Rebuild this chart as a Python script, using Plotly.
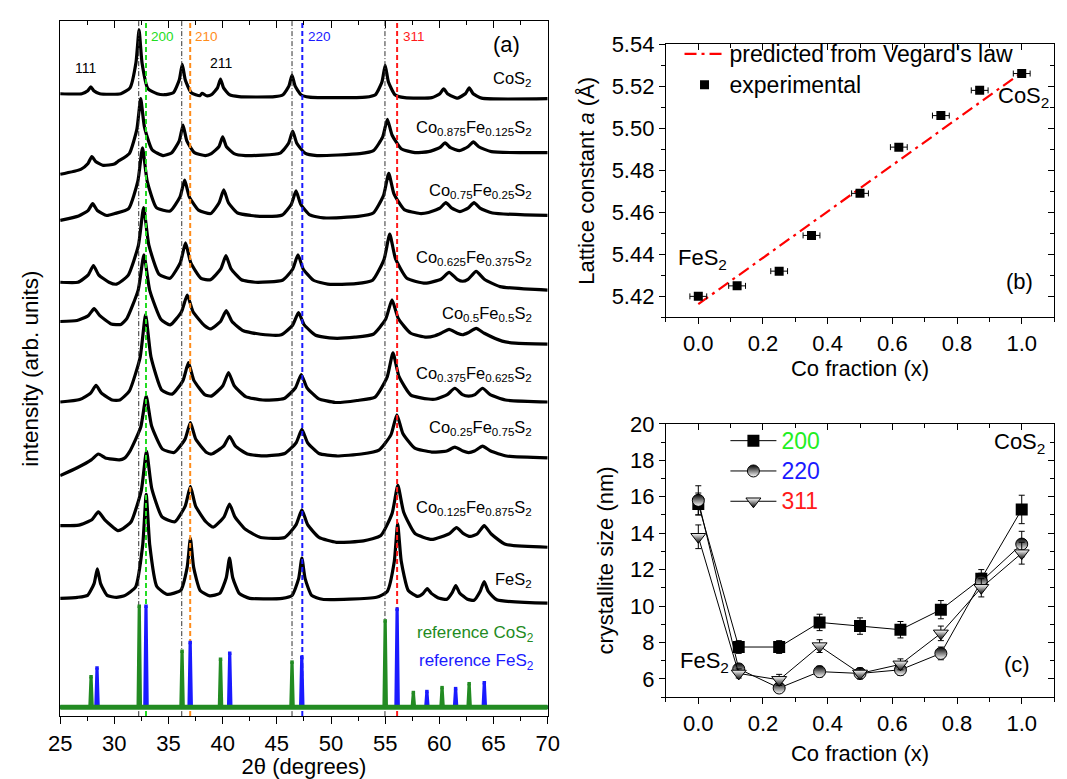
import plotly.graph_objects as go

FONT = "Liberation Sans, Arial, Helvetica, sans-serif"

# ---------------- (a) XRD patterns: (2theta [deg], intensity incl. stacking offset [arb. units])
xrd_cos2 = [(25, 634), (27.0, 634), (27.55, 637), (27.83, 641), (28.1, 637), (28.65, 634), (30.6, 634),
            (31.45, 640), (32.0, 666), (32.28, 699), (32.56, 665), (33.1, 639), (33.95, 634), (34.6, 633),
            (35.44, 635), (35.99, 648), (36.27, 664), (36.55, 648), (37.1, 635), (37.9, 632), (38.1, 634.5),
            (38.5, 632), (38.97, 633), (39.52, 640), (39.8, 649), (40.08, 640), (40.62, 633), (41.5, 631),
            (44.8, 631), (45.57, 633), (46.12, 642), (46.4, 653), (46.68, 642), (47.23, 633), (48.0, 630.5),
            (53.2, 630.5), (54.1, 633), (54.7, 646), (55.0, 663), (55.3, 646), (55.9, 633), (56.8, 630),
            (59.3, 630), (60.05, 634), (60.4, 639), (60.75, 634), (61.5, 630), (61.7, 629.5), (62.4, 634),
            (62.76, 640), (63.12, 634), (63.9, 629.5), (70, 629)]
xrd_co875 = [(25, 552), (26.9, 557), (27.57, 563), (27.92, 570), (28.27, 565), (28.97, 561), (30.0, 562.5),
             (30.33, 565), (31.38, 573), (32.08, 598), (32.43, 629), (32.78, 600), (33.48, 577), (34.5, 571),
             (35.3, 574), (35.99, 586), (36.34, 602), (36.69, 586), (37.39, 574), (38.4, 571), (38.95, 573),
             (39.65, 580), (40.0, 590), (40.35, 580), (41.05, 573), (42.1, 571), (45.3, 573.5), (46.08, 583.5),
             (46.46, 596), (46.84, 583.5), (47.6, 573.5), (48.7, 571), (52.65, 573), (53.92, 576), (54.77, 590),
             (55.2, 608), (55.63, 592), (56.48, 578), (57.75, 574), (59.0, 575), (60.03, 579), (60.53, 584),
             (61.03, 579), (61.85, 576), (62.64, 580), (63.14, 585), (63.64, 580), (64.8, 575), (70, 574)]
xrd_co75 = [(25, 505), (26.7, 509.5), (27.57, 515), (28.0, 522), (28.43, 515), (29.3, 510), (30.05, 512),
            (31.32, 517), (32.17, 545), (32.6, 579), (33.03, 545), (33.88, 518), (35.15, 514.5), (36.06, 529),
            (36.49, 546), (36.92, 529), (37.77, 515.5), (38.9, 512), (39.67, 523), (40.1, 536), (40.53, 523),
            (41.38, 512.5), (42.6, 510), (44.0, 509), (45.5, 510.5), (46.34, 521.5), (46.77, 535), (47.2, 521.5),
            (48.05, 510.5), (49.3, 507.5), (52.5, 509), (53.9, 512.5), (54.85, 530.5), (55.33, 553), (55.81, 532),
            (56.76, 516), (58.2, 512), (59.0, 513), (60.05, 517.5), (60.6, 523), (61.15, 517.5), (61.9, 514),
            (62.65, 517.5), (63.2, 523), (63.75, 517.5), (64.9, 512.5), (70, 510)]
xrd_co625 = [(25, 442), (26.64, 442), (27.59, 449.5), (28.07, 459), (28.55, 449.5), (29.5, 442), (30.2, 440),
             (31.27, 449), (32.22, 479.5), (32.7, 518), (33.18, 480), (34.13, 450), (35.14, 446), (36.09, 462),
             (36.57, 482), (37.05, 462), (38.0, 446), (38.87, 444.5), (39.82, 455.5), (40.3, 469), (40.78, 455.5),
             (41.73, 444.5), (43.0, 442), (45.52, 444), (46.47, 455.5), (46.95, 470), (47.43, 455.5), (48.38, 444),
             (49.7, 440), (52.3, 440.5), (53.84, 444), (54.89, 465), (55.42, 491), (55.95, 466), (57.0, 446),
             (58.7, 441), (60.15, 445), (60.9, 452), (61.65, 445), (62.15, 443), (62.65, 445), (63.4, 453),
             (64.15, 445), (65.6, 437.5), (70, 434)]
xrd_co5 = [(25, 402), (26.55, 403), (27.6, 408), (28.13, 415), (28.66, 408), (29.7, 399.5), (30.6, 399),
           (31.15, 405), (32.2, 434), (32.73, 470), (33.26, 434), (34.31, 404), (35.15, 398.5), (36.2, 412),
           (36.73, 429), (37.26, 412), (38.31, 398), (38.9, 394.5), (39.8, 402), (40.33, 413), (40.86, 402),
           (41.91, 392.5), (43.5, 389), (45.42, 388.5), (46.47, 398.5), (47.0, 411), (47.53, 398.5), (48.58, 388),
           (50.2, 385), (52.2, 386), (53.9, 389), (55.05, 404.5), (55.63, 424), (56.21, 405), (57.36, 390),
           (58.8, 386), (59.6, 387.5), (60.15, 390), (60.9, 394), (61.65, 390), (62.15, 388.5), (62.65, 390.5),
           (63.4, 395), (64.15, 390), (65.8, 382), (67.0, 380), (70, 379)]
xrd_co375 = [(25, 320), (26.8, 322.5), (27.81, 329), (28.31, 337), (28.81, 329), (29.8, 322), (30.5, 322),
             (31.38, 331), (32.38, 365.5), (32.88, 409), (33.38, 366), (34.38, 332), (35.34, 328), (36.34, 342),
             (36.84, 360), (37.34, 342), (38.34, 327.5), (38.96, 326), (40.01, 336.5), (40.54, 350),
             (41.07, 336.5), (42.12, 325.5), (43.7, 322), (45.67, 323.5), (46.72, 334.5), (47.25, 348),
             (47.78, 334.5), (48.83, 323.5), (50.4, 319.5), (52.4, 321.5), (54.07, 325), (55.17, 345),
             (55.72, 370), (56.27, 346), (57.37, 327), (59.0, 323), (59.7, 323), (60.73, 327.5), (61.43, 334),
             (62.13, 327.5), (62.7, 326), (63.29, 327.5), (63.99, 334), (64.69, 327.5), (66.1, 322), (70, 320)]
xrd_co25 = [(25, 245), (26.57, 253), (27.87, 261), (28.52, 267), (29.17, 263), (30.47, 261), (30.9, 262.5),
            (31.44, 270), (32.44, 294.5), (32.94, 326), (33.44, 295.5), (34.44, 272), (35.52, 268.5),
            (36.52, 282), (37.02, 299), (37.52, 282), (38.52, 268.5), (38.98, 267), (40.08, 275), (40.63, 285),
            (41.18, 275), (42.28, 267), (43.9, 265), (45.73, 267.5), (46.78, 278.5), (47.31, 292), (47.84, 278.5),
            (48.89, 267.5), (50.5, 265), (52.8, 267), (54.43, 271), (55.53, 286.5), (56.08, 307), (56.63, 288),
            (57.73, 273), (59.3, 269), (60.68, 270), (61.43, 274), (62.18, 270), (62.7, 268.5), (63.24, 270),
            (63.99, 275), (64.74, 270), (66.2, 265), (70, 263)]
xrd_co125 = [(25, 194), (26.72, 194.5), (27.92, 200), (28.52, 208), (29.12, 200), (30.32, 189), (30.8, 191),
             (31.55, 198), (32.49, 230), (32.97, 270), (33.45, 232), (34.4, 203), (35.59, 198), (36.54, 214),
             (37.02, 234), (37.5, 214), (38.45, 198), (39.13, 192.5), (40.13, 203), (40.63, 216), (41.13, 203),
             (42.13, 190), (43.5, 182), (45.73, 182), (46.78, 195), (47.31, 210), (47.84, 195), (48.89, 182),
             (50.5, 177), (53.0, 178.5), (54.6, 184), (55.64, 206.5), (56.17, 235), (56.7, 208), (57.75, 186),
             (59.3, 180), (60.93, 186), (61.58, 192), (62.23, 186), (62.85, 183), (63.49, 185.5), (64.14, 194),
             (64.79, 185.5), (66.1, 175), (70, 172)]
xrd_fes2 = [(25, 120), (26.6, 121), (27.53, 123), (28.13, 135), (28.43, 150), (28.73, 135), (29.33, 123),
            (30.2, 121), (31.0, 123), (31.96, 131.5), (32.61, 173.5), (32.94, 226), (33.27, 174), (33.92, 132),
            (34.9, 124), (36.12, 128), (36.72, 151.5), (37.02, 181), (37.32, 151.5), (37.92, 128), (38.8, 122.5),
            (39.73, 125), (40.33, 141), (40.63, 161), (40.93, 141), (41.53, 125), (42.5, 120), (45.5, 120),
            (46.41, 123), (47.01, 140), (47.31, 161), (47.61, 140), (48.21, 123), (49.2, 119), (54.2, 121),
            (55.19, 127), (55.84, 157.5), (56.15, 196), (56.48, 158), (57.13, 128), (58.0, 122), (58.5, 125),
            (58.88, 130), (59.26, 125), (60.0, 120), (60.7, 119), (61.17, 125.5), (61.52, 133), (61.87, 125.5),
            (62.6, 119), (63.2, 118), (63.76, 127), (64.14, 137), (64.52, 127), (65.3, 118.5), (70, 115)]

xrd_patterns = [xrd_cos2, xrd_co875, xrd_co75, xrd_co625, xrd_co5, xrd_co375, xrd_co25, xrd_co125, xrd_fes2]
xrd_labels = ["CoS<sub>2</sub>",
              "Co<sub>0.875</sub>Fe<sub>0.125</sub>S<sub>2</sub>",
              "Co<sub>0.75</sub>Fe<sub>0.25</sub>S<sub>2</sub>",
              "Co<sub>0.625</sub>Fe<sub>0.375</sub>S<sub>2</sub>",
              "Co<sub>0.5</sub>Fe<sub>0.5</sub>S<sub>2</sub>",
              "Co<sub>0.375</sub>Fe<sub>0.625</sub>S<sub>2</sub>",
              "Co<sub>0.25</sub>Fe<sub>0.75</sub>S<sub>2</sub>",
              "Co<sub>0.125</sub>Fe<sub>0.875</sub>S<sub>2</sub>",
              "FeS<sub>2</sub>"]
xrd_label_y = [649, 599, 535, 467, 410, 349, 294, 212, 139]

# reference stick patterns (position, relative intensity above the common base line)
ref_base = 9
ref_cos2_pos = [27.85, 32.3, 36.25, 39.8, 46.4, 55.0, 57.6, 60.25, 62.75]
ref_cos2_int = [31, 103, 57, 49, 46, 88, 15, 20, 24]
ref_fes2_pos = [28.4, 32.92, 37.0, 40.65, 47.3, 56.1, 58.85, 61.5, 64.15]
ref_fes2_int = [40, 103, 66, 55, 51, 100, 16, 19, 25]

# guide lines: CoS2 peak positions (grey dash-dot) and FeS2 peak positions (coloured)
guide_cos2 = [32.25, 36.22, 46.4, 54.98]
guide_fes2 = [32.92, 37.0, 47.35, 56.1]
guide_hkl = ["200", "210", "220", "311"]
guide_hkl_x = [34.45, 38.55, 48.9, 57.7]
guide_colors = ["#22dd22", "#ff8c1a", "#1a1aff", "#ff1a1a"]
A_YMAX = 708

# ---------------- (b) lattice constant
co_frac_b = [0.0, 0.12, 0.25, 0.35, 0.5, 0.62, 0.75, 0.87, 1.0]
lattice_a = [5.420, 5.425, 5.432, 5.449, 5.469, 5.491, 5.506, 5.518, 5.526]
lattice_xerr = [0.026, 0.026, 0.026, 0.026, 0.026, 0.026, 0.026, 0.026, 0.026]
lattice_yerr = [0.0012, 0.0012, 0.0012, 0.0012, 0.0012, 0.0012, 0.0012, 0.0012, 0.0012]
vegard_x = [0.0, 1.0]
vegard_y = [5.4163, 5.5265]

# ---------------- (c) crystallite size
co_frac_c = [0.0, 0.125, 0.25, 0.375, 0.5, 0.625, 0.75, 0.875, 1.0]
size_200 = [15.6, 7.75, 7.75, 9.1, 8.9, 8.7, 9.8, 11.5, 15.3]
err_200 = [0.6, 0.35, 0.35, 0.45, 0.45, 0.45, 0.5, 0.5, 0.78]
size_220 = [15.8, 6.55, 5.5, 6.4, 6.3, 6.5, 7.4, 11.35, 13.4]
err_220 = [0.8, 0.25, 0.2, 0.3, 0.25, 0.3, 0.35, 0.45, 0.7]
size_311 = [13.8, 6.3, 5.95, 7.8, 6.3, 6.8, 8.5, 11.0, 12.9]
err_311 = [0.65, 0.25, 0.3, 0.35, 0.3, 0.3, 0.4, 0.5, 0.6]

fig = go.Figure()

# ---- (a) traces
for pat in xrd_patterns:
    fig.add_trace(go.Scatter(x=[p[0] for p in pat], y=[p[1] for p in pat], mode="lines",
                             line=dict(color="black", width=3.2, shape="spline", smoothing=0.5),
                             showlegend=False, xaxis="x", yaxis="y", hoverinfo="skip"))

for gx in guide_cos2:
    fig.add_trace(go.Scatter(x=[gx, gx], y=[0, A_YMAX], mode="lines",
                             line=dict(color="#333333", width=1, dash="5px,2px,1px,2px"),
                             showlegend=False, xaxis="x", yaxis="y", hoverinfo="skip"))
for gx, gc in zip(guide_fes2, guide_colors):
    fig.add_trace(go.Scatter(x=[gx, gx], y=[0, A_YMAX], mode="lines",
                             line=dict(color=gc, width=2, dash="5px,3px"),
                             showlegend=False, xaxis="x", yaxis="y", hoverinfo="skip"))


def stick_trace(pos, inten, color):
    xs, ys = [25], [ref_base]
    for p, h in zip(pos, inten):
        xs += [p - 0.11, p, p + 0.11]
        ys += [ref_base, ref_base + h, ref_base]
    xs.append(70)
    ys.append(ref_base)
    return go.Scatter(x=xs, y=ys, mode="lines+markers", line=dict(color=color, width=3.2),
                      marker=dict(color=color, size=3.5, symbol="square"),
                      showlegend=False, xaxis="x", yaxis="y", hoverinfo="skip")


fig.add_trace(stick_trace(ref_fes2_pos, ref_fes2_int, "#1a1aff"))
fig.add_trace(stick_trace(ref_cos2_pos, ref_cos2_int, "#228b22"))
fig.add_trace(go.Scatter(x=[25, 70], y=[ref_base, ref_base], mode="lines",
                         line=dict(color="#228b22", width=5), showlegend=False,
                         xaxis="x", yaxis="y", hoverinfo="skip"))

# ---- (b) traces
fig.add_trace(go.Scatter(x=vegard_x, y=vegard_y, mode="lines",
                         name='<span style="font-size:23px">predicted from Vegard\'s law</span>',
                         line=dict(color="#ff0000", width=2.2, dash="12px,5px,3px,5px"),
                         xaxis="x2", yaxis="y2", legend="legend"))
fig.add_trace(go.Scatter(x=co_frac_b, y=lattice_a, mode="markers",
                         name='<span style="font-size:23px">experimental</span>',
                         marker=dict(color="black", size=9, symbol="square"),
                         error_x=dict(type="data", array=lattice_xerr, color="black", thickness=1, width=3),
                         error_y=dict(type="data", array=lattice_yerr, color="black", thickness=1, width=3),
                         xaxis="x2", yaxis="y2", legend="legend"))

# ---- (c) traces
fig.add_trace(go.Scatter(x=co_frac_c, y=size_200, mode="lines+markers",
                         name='<span style="color:#22ee22;font-size:23px">200</span>',
                         line=dict(color="black", width=1),
                         marker=dict(color="black", size=12, symbol="square"),
                         error_y=dict(type="data", array=err_200, color="black", thickness=1, width=3),
                         xaxis="x3", yaxis="y3", legend="legend2"))
fig.add_trace(go.Scatter(x=co_frac_c, y=size_220, mode="lines+markers",
                         name='<span style="color:#1a1aff;font-size:23px">220</span>',
                         line=dict(color="black", width=1),
                         marker=dict(color="black", size=12, symbol="circle",
                                     gradient=dict(type="vertical", color="white"),
                                     line=dict(color="black", width=1)),
                         error_y=dict(type="data", array=err_220, color="black", thickness=1, width=3),
                         xaxis="x3", yaxis="y3", legend="legend2"))
fig.add_trace(go.Scatter(x=co_frac_c, y=size_311, mode="lines+markers",
                         name='<span style="color:#ff1a1a;font-size:23px">311</span>',
                         line=dict(color="black", width=1),
                         marker=dict(color="white", size=13, symbol="triangle-down",
                                     gradient=dict(type="vertical", color="black"),
                                     line=dict(color="black", width=1)),
                         error_y=dict(type="data", array=err_311, color="black", thickness=1, width=3),
                         xaxis="x3", yaxis="y3", legend="legend2"))

# ---- annotations
ann = []
for lab, ly in zip(xrd_labels, xrd_label_y):
    ann.append(dict(x=68.7, y=ly, xref="x", yref="y", text=lab, showarrow=False, xanchor="right",
                    yanchor="middle", font=dict(size=16.5, color="black")))
ann.append(dict(x=68.9, y=84, xref="x", yref="y", text="reference CoS<sub>2</sub>", showarrow=False,
                xanchor="right", yanchor="middle", font=dict(size=17, color="#228b22")))
ann.append(dict(x=68.9, y=55, xref="x", yref="y", text="reference FeS<sub>2</sub>", showarrow=False,
                xanchor="right", yanchor="middle", font=dict(size=17, color="#1a1aff")))
for t, tx, tc in zip(guide_hkl, guide_hkl_x, guide_colors):
    ann.append(dict(x=tx, y=692, xref="x", yref="y", text=t, showarrow=False, font=dict(size=13.5, color=tc)))
ann.append(dict(x=27.3, y=660, xref="x", yref="y", text="111", showarrow=False, font=dict(size=14, color="black")))
ann.append(dict(x=39.85, y=665, xref="x", yref="y", text="211", showarrow=False, font=dict(size=14, color="black")))
ann.append(dict(x=66.2, y=684, xref="x", yref="y", text="(a)", showarrow=False, font=dict(size=22, color="black")))

ann.append(dict(x=-0.068, y=5.438, xref="x2", yref="y2", text="FeS<sub>2</sub>", showarrow=False,
                xanchor="left", font=dict(size=22)))
ann.append(dict(x=1.09, y=5.515, xref="x2", yref="y2", text="CoS<sub>2</sub>", showarrow=False,
                xanchor="right", font=dict(size=22)))
ann.append(dict(x=0.992, y=5.427, xref="x2", yref="y2", text="(b)", showarrow=False, font=dict(size=22)))

ann.append(dict(x=1.078, y=18.95, xref="x3", yref="y3", text="CoS<sub>2</sub>", showarrow=False,
                xanchor="right", font=dict(size=22)))
ann.append(dict(x=-0.062, y=6.91, xref="x3", yref="y3", text="FeS<sub>2</sub>", showarrow=False,
                xanchor="left", font=dict(size=22)))
ann.append(dict(x=0.986, y=6.8, xref="x3", yref="y3", text="(c)", showarrow=False, font=dict(size=22)))

axcommon = dict(showline=True, linecolor="black", linewidth=1.2, mirror=True, ticks="outside",
                tickcolor="black", showgrid=False, zeroline=False)
# decorative inside ticks on the top / right frame edges (overlay axes, no labels)
inside = dict(ticks="inside", tickcolor="black", showticklabels=False, showline=False,
              showgrid=False, zeroline=False)

fig.update_layout(
    width=1067, height=779, margin=dict(l=0, r=0, t=0, b=0),
    paper_bgcolor="white", plot_bgcolor="white",
    font=dict(family=FONT, size=20, color="black"),
    annotations=ann,
    xaxis=dict(domain=[0.0462, 0.5136], range=[25, 70], dtick=5, tick0=25, ticklen=7,
               minor=dict(dtick=2.5, ticklen=4, ticks="outside", tickcolor="black"),
               title=dict(text="2θ (degrees)", font=dict(size=22), standoff=8),
               tickfont=dict(size=22), anchor="y", **axcommon),
    yaxis=dict(domain=[0.0796, 0.9881], range=[0, A_YMAX], showticklabels=False,
               title=dict(text="intensity (arb. units)", font=dict(size=22.5), standoff=14),
               anchor="x", showline=True, linecolor="black", linewidth=1.2, mirror=True,
               ticks="", showgrid=False, zeroline=False),
    xaxis2=dict(domain=[0.6270, 0.9991], range=[-0.1, 1.1], dtick=0.2, tick0=0, tickformat=".1f", ticklen=6,
                minor=dict(dtick=0.1, ticklen=4, ticks="outside", tickcolor="black"),
                title=dict(text="Co fraction (x)", font=dict(size=22), standoff=4),
                tickfont=dict(size=22), anchor="y2", **axcommon),
    yaxis2=dict(domain=[0.6008, 0.9580], range=[5.41, 5.54], dtick=0.02, tick0=5.42, tickformat=".2f",
                ticklen=6, minor=dict(dtick=0.01, ticklen=4, ticks="outside", tickcolor="black"),
                title=dict(text="Lattice constant <i>a</i> (Å)", font=dict(size=22), standoff=10),
                tickfont=dict(size=22), anchor="x2", **axcommon),
    xaxis3=dict(domain=[0.6270, 0.9991], range=[-0.1, 1.1], dtick=0.2, tick0=0, tickformat=".1f", ticklen=6,
                minor=dict(dtick=0.1, ticklen=4, ticks="outside", tickcolor="black"),
                title=dict(text="Co fraction (x)", font=dict(size=22), standoff=10),
                tickfont=dict(size=22), anchor="y3", **axcommon),
    yaxis3=dict(domain=[0.1044, 0.4617], range=[5, 20], dtick=2, tick0=6, ticklen=6,
                minor=dict(dtick=1, ticklen=4, ticks="outside", tickcolor="black"),
                title=dict(text="crystallite size (nm)", font=dict(size=22), standoff=10),
                tickfont=dict(size=22), anchor="x3", **axcommon),
    xaxis4=dict(overlaying="x", side="top", anchor="y", range=[25, 70], dtick=5, tick0=25, ticklen=7,
                minor=dict(dtick=2.5, ticklen=4, ticks="inside", tickcolor="black"), **inside),
    xaxis5=dict(overlaying="x2", side="top", anchor="y2", range=[-0.1, 1.1], dtick=0.2, tick0=0, ticklen=6,
                minor=dict(dtick=0.1, ticklen=4, ticks="inside", tickcolor="black"), **inside),
    yaxis5=dict(overlaying="y2", side="right", anchor="x2", range=[5.41, 5.54], dtick=0.02, tick0=5.42,
                ticklen=6, minor=dict(dtick=0.01, ticklen=4, ticks="inside", tickcolor="black"), **inside),
    xaxis6=dict(overlaying="x3", side="top", anchor="y3", range=[-0.1, 1.1], dtick=0.2, tick0=0, ticklen=6,
                minor=dict(dtick=0.1, ticklen=4, ticks="inside", tickcolor="black"), **inside),
    yaxis6=dict(overlaying="y3", side="right", anchor="x3", range=[5, 20], dtick=2, tick0=6, ticklen=6,
                minor=dict(dtick=1, ticklen=4, ticks="inside", tickcolor="black"), **inside),
    legend=dict(x=0.640, y=0.972, xanchor="left", yanchor="top", bgcolor="rgba(0,0,0,0)",
                font=dict(size=21.5), tracegroupgap=0, itemwidth=40),
    legend2=dict(x=0.684, y=0.466, xanchor="left", yanchor="top", bgcolor="rgba(0,0,0,0)",
                 font=dict(size=21), tracegroupgap=0, itemwidth=46),
)

# empty helper traces so that the decorative overlay axes are drawn
fig.add_trace(go.Scatter(x=[], y=[], xaxis="x4", yaxis="y", showlegend=False, hoverinfo="skip"))
fig.add_trace(go.Scatter(x=[], y=[], xaxis="x5", yaxis="y5", showlegend=False, hoverinfo="skip"))
fig.add_trace(go.Scatter(x=[], y=[], xaxis="x6", yaxis="y6", showlegend=False, hoverinfo="skip"))

fig.write_html("out.html")
